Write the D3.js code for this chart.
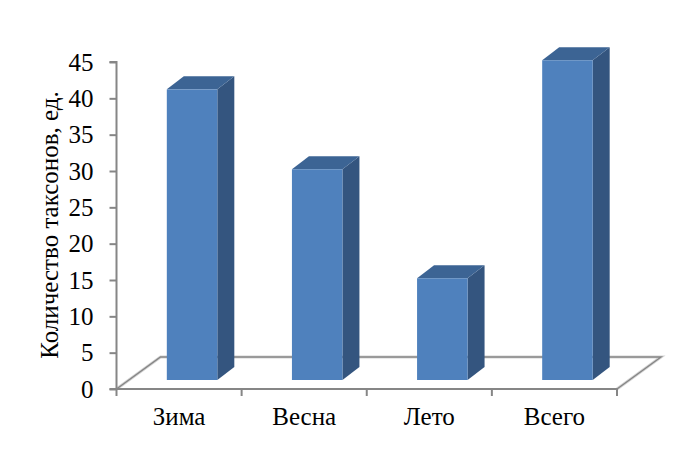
<!DOCTYPE html>
<html><head><meta charset="utf-8">
<script src="https://cdn.jsdelivr.net/npm/d3@7"></script>
<style>html,body{margin:0;padding:0;background:#fff}svg{display:block}
text{font-family:"Liberation Serif","Times New Roman",serif;fill:#000}</style>
</head><body><svg id="c" width="695" height="449"></svg>
<script>
const categories = ["Зима","Весна","Лето","Всего"];
const values = [40,29,14,44];
const yTicks = [0,5,10,15,20,25,30,35,40,45];
const yTitle = "Количество таксонов, ед.";

const svg = d3.select("#c");
const x = d3.scaleBand().domain(categories).range([116.5,617]).paddingInner(0).paddingOuter(0);
const y = d3.scaleLinear().domain([0,45]).range([389,62]);
const axisColor = "#868686";
const floorDx = 44, floorDy = -32;
const gapDx = 13, gapDy = -9;
const depthDx = 17, depthDy = -13;
const barW = 50.5;

// floor
const [x0,x1] = x.range();
const floor = [[x0,y(0)],[x0+floorDx,y(0)+floorDy],[x1+floorDx,y(0)+floorDy],[x1,y(0)]];
svg.append("path").attr("d",d3.line()(floor)).attr("fill","none")
  .attr("stroke","#d4d4d4").attr("stroke-width",3);
svg.append("path").attr("d",d3.line()(floor)).attr("fill","none")
  .attr("stroke",axisColor).attr("stroke-width",1.4);

// axes
const gy = svg.append("g").attr("transform",`translate(${x0},0)`)
  .call(d3.axisLeft(y).tickValues(yTicks).tickSize(7).tickPadding(16));
const gx = svg.append("g").attr("transform",`translate(0,${y(0)})`)
  .call(d3.axisBottom(x).tickSize(0).tickPadding(18));
[gy,gx].forEach(g=>{
  g.selectAll("path.domain").attr("stroke",axisColor).attr("stroke-width",2);
  g.selectAll(".tick line").attr("stroke",axisColor).attr("stroke-width",2);
});
gy.selectAll("text").attr("font-size",25).style("font-family",'"Liberation Serif"');
gx.selectAll("text").attr("font-size",25).style("font-family",'"Liberation Serif"');
gy.selectAll("path.domain").attr("d",`M-7,${y(45)}H0V${y(0)}H-7`);
gx.selectAll("path.domain").attr("d",`M${x0},0H${x1}`);
svg.append("g").selectAll("line").data(d3.range(categories.length+1)).join("line")
  .attr("x1",i=>x0+i*x.step()).attr("x2",i=>x0+i*x.step())
  .attr("y1",y(0)).attr("y2",y(0)+7)
  .attr("stroke",axisColor).attr("stroke-width",2);

// bars
const bars = svg.append("g").selectAll("g").data(categories.map((c,i)=>({c,v:values[i]}))).join("g");
const left = d=>x(d.c)+x.bandwidth()/2-barW/2+gapDx;
const top_ = d=>y(d.v)+gapDy;
const base = y(0)+gapDy;
bars.append("path").attr("fill","#34557F").attr("d",d=>{
  const l=left(d)+barW,t=top_(d);
  return d3.line()([[l,t],[l+depthDx,t+depthDy],[l+depthDx,base+depthDy],[l,base]])+"Z";
});
bars.append("path").attr("fill","#3C6494").attr("d",d=>{
  const l=left(d),t=top_(d);
  return d3.line()([[l,t],[l+depthDx,t+depthDy],[l+barW+depthDx,t+depthDy],[l+barW,t]])+"Z";
});
bars.append("rect").attr("x",left).attr("y",top_).attr("width",barW)
  .attr("height",d=>base-top_(d)).attr("fill","#4F81BD");

// title
svg.append("text").attr("transform","translate(58,225) rotate(-90)")
  .attr("text-anchor","middle").attr("font-size",25).text(yTitle);
</script></body></html>
